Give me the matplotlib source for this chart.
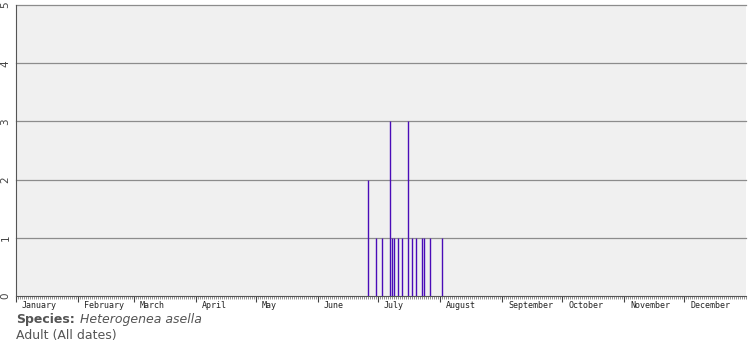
import matplotlib
matplotlib.use("Agg")
import matplotlib.pyplot as plt

# Data: day of year (0 = 1 January) and number of records
days = [176, 180, 183, 187, 188, 189, 191, 193, 196, 198, 200, 203, 204, 207, 213]
counts = [2, 1, 1, 3, 1, 1, 1, 1, 3, 1, 1, 1, 1, 1, 1]

months = ["January", "February", "March", "April", "May", "June",
          "July", "August", "September", "October", "November", "December"]
month_starts = [0, 31, 59, 90, 120, 151, 181, 212, 243, 273, 304, 334]

fig = plt.figure(figsize=(7.55, 3.5), dpi=100)
ax = fig.add_axes([16 / 755, 54 / 350, 730 / 755, 291 / 350])
ax.set_facecolor("#f0f0f0")

# Horizontal grid
for y in range(1, 6):
    ax.axhline(y, color="#8c8c8c", lw=0.9, zorder=1, clip_on=False)

# Bars as thin vertical lines
ax.vlines(days, 0, counts, color="#4a0cb8", lw=1.0, zorder=3)

ax.set_xlim(0, 365)
ax.set_ylim(0, 5)

ax.set_xticks(month_starts)
ax.set_xticklabels([])
for m, s in zip(months, month_starts):
    ax.text(s + 3, -0.08, m, fontsize=6, color="#222222", ha="left", va="top",
            transform=ax.transData, family="DejaVu Sans Mono")
ax.set_xticks(range(0, 366), minor=True)
ax.tick_params(axis="x", which="major", length=4, width=0.8, color="#444444")
ax.tick_params(axis="x", which="minor", length=2, width=0.5, color="#666666")

ax.set_yticks(range(0, 6))
ax.set_yticklabels([str(v) for v in range(0, 6)], rotation=90, va="center",
                   fontsize=7.5, color="#444444")
ax.tick_params(axis="y", length=0, pad=4)

ax.spines["top"].set_visible(False)
ax.spines["right"].set_visible(False)
ax.spines["left"].set_color("#555555")
ax.spines["bottom"].set_color("#555555")

fig.text(16 / 755, 1 - 320 / 350, "Species:", fontsize=9, fontweight="bold",
         color="#555555", va="center", ha="left")
fig.text(80 / 755, 1 - 320 / 350, "Heterogenea asella", fontsize=9,
         style="italic", color="#555555", va="center", ha="left")
fig.text(16 / 755, 1 - 336 / 350, "Adult (All dates)", fontsize=9,
         color="#555555", va="center", ha="left")

fig.savefig("out.png", dpi=100)
